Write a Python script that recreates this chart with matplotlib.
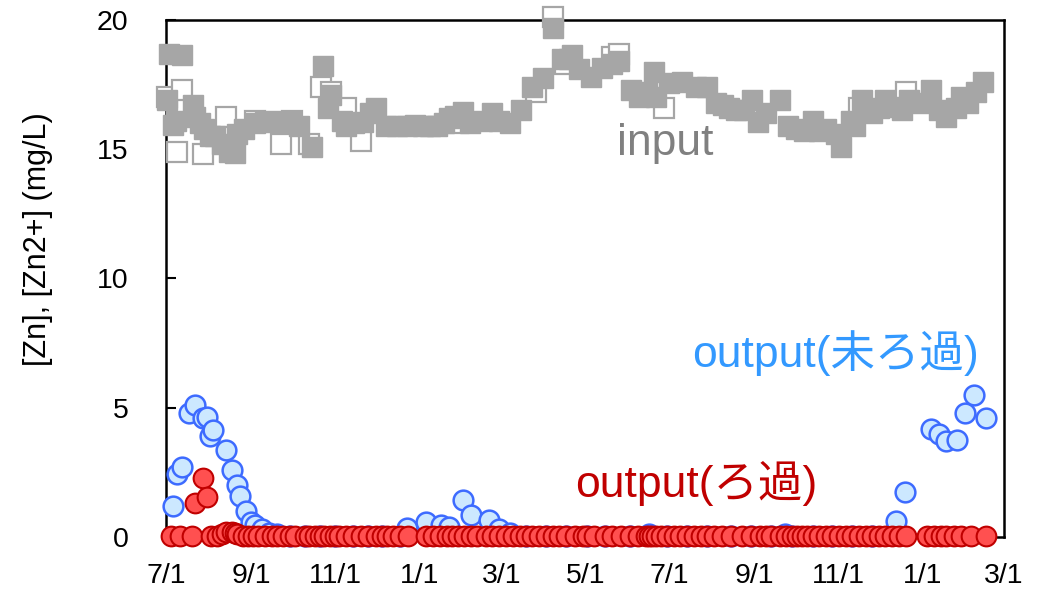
import pandas as pd
import matplotlib.pyplot as plt
import matplotlib.dates as mdates

# 測定日は 7/1 からの経過日数
start = pd.Timestamp('2019-07-01')
end = pd.Timestamp('2021-03-01')

# input（塗りつぶし）
input_days = [1, 2, 5, 7, 12, 20, 21, 25, 28, 32, 36, 41, 46, 50, 52, 57, 65, 72, 79, 86,
              91, 97, 106, 114, 118, 120, 128, 131, 137, 143, 148, 153, 160, 168, 175, 181,
              187, 192, 197, 202, 206, 210, 216, 221, 230, 237, 242, 250, 258, 266, 274, 281,
              288, 293, 295, 300, 309, 317, 324, 329, 338, 344, 350, 355, 356, 366, 375, 385,
              393, 400, 405, 409, 414, 420, 426, 430, 436, 446, 452, 458, 464, 470, 475, 480,
              487, 491, 498, 501, 506, 513, 518, 523, 530, 535, 540, 547, 556, 562, 567, 574,
              578, 583, 589, 594]
input_vals = [16.9, 18.7, 15.95, 16.1, 18.65, 16.7, 16.25, 16.0, 15.8, 15.5, 15.5, 15.2, 14.9,
              14.85, 15.6, 15.8, 16.0, 16.05, 16.1, 16.0, 16.1, 15.9, 15.1, 18.2, 16.6, 17.1,
              16.1, 15.9, 16.0, 16.05, 16.4, 16.6, 15.9, 15.9, 15.9, 15.95, 15.9, 15.9, 15.9,
              16.0, 16.2, 16.3, 16.45, 16.0, 16.1, 16.4, 16.1, 16.0, 16.5, 17.4, 17.75, 19.7,
              18.5, 18.5, 18.65, 18.1, 17.8, 18.15, 18.3, 18.4, 17.3, 17.0, 17.2, 18.0, 17.0,
              17.55, 17.6, 17.4, 17.4, 16.8, 16.7, 16.6, 16.5, 16.5, 16.9, 16.05, 16.4, 16.9,
              15.9, 15.8, 15.7, 16.1, 15.7, 15.8, 15.6, 15.1, 16.1, 15.9, 16.9, 16.4, 16.6,
              16.9, 16.65, 16.5, 16.9, 16.8, 17.3, 16.5, 16.25, 16.6, 17.0, 16.8, 17.2, 17.6]

# input（白抜き）
input2_days = [1, 8, 12, 27, 44, 65, 84, 92, 104, 113, 120, 131, 142, 212, 269, 281, 290,
               324, 329, 362, 504, 538]
input2_vals = [17.0, 14.9, 17.3, 14.8, 16.25, 16.1, 15.2, 16.1, 15.2, 17.4, 17.2, 16.6, 15.3,
               16.0, 17.2, 20.1, 18.3, 18.55, 18.7, 16.6, 16.6, 17.2]

# output（未ろ過）
raw_days = [5, 8, 12, 17, 21, 27, 30, 32, 34, 44, 48, 52, 54, 58, 62, 65, 70, 75, 81, 90,
            101, 112, 123, 136, 147, 157, 170, 175, 189, 200, 206, 216, 222, 235, 242, 250,
            262, 276, 291, 306, 319, 337, 351, 364, 379, 393, 411, 425, 440, 450, 455, 470,
            484, 499, 513, 531, 537, 556, 562, 567, 575, 581, 587, 596]
raw_vals = [1.2, 2.45, 2.7, 4.8, 5.1, 4.6, 4.65, 3.9, 4.15, 3.35, 2.6, 2.0, 1.6, 1.0, 0.6,
            0.45, 0.3, 0.15, 0.1, 0.05, 0.03, 0.03, 0.03, 0.03, 0.03, 0.03, 0.05, 0.35, 0.58,
            0.47, 0.4, 1.45, 0.85, 0.66, 0.3, 0.15, 0.05, 0.03, 0.03, 0.03, 0.03, 0.03, 0.12,
            0.03, 0.03, 0.03, 0.03, 0.03, 0.03, 0.1, 0.03, 0.03, 0.03, 0.03, 0.05, 0.62, 1.75,
            4.18, 4.0, 3.7, 3.75, 4.8, 5.5, 4.6]

# output（ろ過）
filt_days = [4, 10, 19, 21, 27, 30, 33, 37, 41, 44, 48, 50, 52, 56, 60, 63, 67, 72, 77, 81,
             85, 90, 94, 101, 104, 108, 112, 115, 119, 123, 126, 131, 136, 142, 147, 153, 157,
             161, 165, 170, 176, 189, 194, 199, 204, 208, 212, 217, 222, 226, 233, 237, 242,
             247, 252, 257, 262, 266, 271, 276, 281, 286, 291, 297, 303, 306, 311, 319, 324,
             331, 337, 343, 349, 351, 353, 356, 360, 364, 369, 374, 379, 384, 389, 393, 398,
             404, 411, 419, 425, 432, 436, 440, 446, 451, 455, 459, 462, 466, 470, 475, 480,
             484, 489, 494, 499, 504, 509, 513, 518, 523, 528, 533, 538, 553, 558, 563, 567,
             573, 578, 585, 596]
filt_vals = [0.05, 0.05, 0.05, 1.3, 2.3, 1.55, 0.05, 0.05, 0.1, 0.2, 0.2, 0.15, 0.1, 0.05,
             0.05, 0.05, 0.05, 0.05, 0.05, 0.05, 0.05, 0.05, 0.05, 0.05, 0.05, 0.05, 0.05,
             0.05, 0.05, 0.05, 0.05, 0.05, 0.05, 0.05, 0.05, 0.05, 0.05, 0.05, 0.05, 0.05,
             0.05, 0.05, 0.05, 0.05, 0.05, 0.05, 0.05, 0.05, 0.05, 0.05, 0.05, 0.05, 0.05,
             0.05, 0.05, 0.05, 0.05, 0.05, 0.05, 0.05, 0.05, 0.05, 0.05, 0.05, 0.05, 0.05,
             0.05, 0.05, 0.05, 0.05, 0.05, 0.05, 0.05, 0.05, 0.05, 0.05, 0.05, 0.05, 0.05,
             0.05, 0.05, 0.05, 0.05, 0.05, 0.05, 0.05, 0.05, 0.05, 0.05, 0.05, 0.05, 0.05,
             0.05, 0.05, 0.05, 0.05, 0.05, 0.05, 0.05, 0.05, 0.05, 0.05, 0.05, 0.05, 0.05,
             0.05, 0.05, 0.05, 0.05, 0.05, 0.05, 0.05, 0.05, 0.05, 0.05, 0.05, 0.05, 0.05,
             0.05, 0.05, 0.05]

y_ticks = [0, 5, 10, 15, 20]


def to_dates(days):
    return start + pd.to_timedelta(days, unit='D')


plt.rcParams['font.family'] = ['Liberation Sans', 'Noto Sans CJK JP']

fig = plt.figure(figsize=(10.37, 5.93), dpi=100)
ax = fig.add_axes([0.160, 0.0944, 0.808, 0.872])

gray = '#A6A6A6'
ax.plot(to_dates(input2_days), input2_vals, 's', ms=14.5, mfc='white', mec=gray, mew=1.6,
        clip_on=False, zorder=3)
ax.plot(to_dates(input_days), input_vals, 's', ms=14.5, mfc=gray, mec=gray, mew=1.0,
        clip_on=False, zorder=4)
ax.plot(to_dates(raw_days), raw_vals, 'o', ms=14.2, mfc='#CCE8FF', mec='#3D6BFF', mew=1.8,
        clip_on=False, zorder=5)
ax.plot(to_dates(filt_days), filt_vals, 'o', ms=14.2, mfc='#FF5050', mec='#C00000', mew=1.5,
        clip_on=False, zorder=6)

ax.text(0.538, 0.739, 'input', transform=ax.transAxes, fontsize=32, color='#808080',
        ha='left', va='baseline')
ax.text(0.628, 0.329, 'output(未ろ過)', transform=ax.transAxes, fontsize=32,
        color='#3399FF', ha='left', va='baseline')
ax.text(0.488, 0.077, 'output(ろ過)', transform=ax.transAxes, fontsize=32,
        color='#C00000', ha='left', va='baseline')

ax.set_xlim(start, end)
ax.set_ylim(0, 20)
ax.set_yticks(y_ticks)
ax.xaxis.set_major_locator(mdates.MonthLocator(bymonth=[1, 3, 5, 7, 9, 11]))
ax.xaxis.set_major_formatter(plt.FuncFormatter(
    lambda v, pos: f'{mdates.num2date(v).month}/{mdates.num2date(v).day}'))

ax.tick_params(axis='y', direction='in', length=7, width=1.5, labelsize=20.5, pad=27)
ax.tick_params(axis='x', direction='in', length=0, labelsize=20.5, pad=19)
for s in ax.spines.values():
    s.set_linewidth(1.8)
    s.set_color('black')

ax.set_ylabel('[Zn], [Zn2+] (mg/L)', fontsize=22)
ax.yaxis.set_label_coords(-0.135, 0.576)

fig.savefig('out.png', dpi=100)
